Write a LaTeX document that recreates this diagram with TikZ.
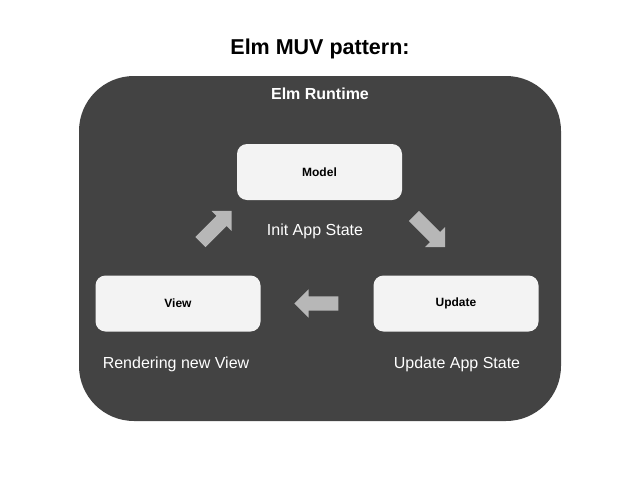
\documentclass[tikz,border=0pt]{standalone}
\usepackage{fontspec}
\setmainfont{Liberation Sans}
\usetikzlibrary{shapes.arrows}
\definecolor{rt}{HTML}{434343}
\definecolor{bx}{HTML}{F3F3F3}
\definecolor{ar}{HTML}{B7B7B7}
\tikzset{
  px/.style={x=1pt,y=-1pt},
  compbox/.style={fill=bx, rounded corners=10pt, minimum width=165pt, minimum height=56pt, inner sep=0pt, font=\bfseries\fontsize{12}{14}\selectfont},
  lbl/.style={text=white, font=\fontsize{16}{19}\selectfont, inner sep=0pt},
  blockarrow/.style={single arrow, fill=ar, draw=none, minimum height=44pt, minimum width=28pt, inner sep=7pt, single arrow head extend=7pt, single arrow tip angle=90}
}
\begin{document}
\begin{tikzpicture}[px]
\useasboundingbox (0,0) rectangle (640,480);
\fill[white] (0,0) rectangle (640,480);
\node[font=\bfseries\fontsize{21.5}{26}\selectfont, inner sep=0pt] (title) at (320,49) {Elm MUV pattern:};
\node[fill=rt, rounded corners=55pt, minimum width=482pt, minimum height=345pt, inner sep=0pt] (runtime) at (320,248.5) {};
\node[text=white, font=\bfseries\fontsize{16}{19}\selectfont, inner sep=0pt] (rtlabel) at (320,93.5) {Elm Runtime};
\node[compbox] (model) at (319.5,172) {Model};
\node[compbox] (view) at (178,303.5) {View};
\node[compbox] (update) at (456,303.5) {Update};
\node[lbl] (init) at (315,231.5) {Init App State};
\node[lbl] (render) at (176,364.5) {Rendering new View};
\node[lbl] (upd) at (457,364.5) {Update App State};
\node[blockarrow, rotate=-45] (a1) at (427,229) {};
\node[blockarrow, rotate=180] (a2) at (320,303.5) {};
\node[blockarrow, rotate=45] (a3) at (213.5,229) {};
\end{tikzpicture}
\end{document}
